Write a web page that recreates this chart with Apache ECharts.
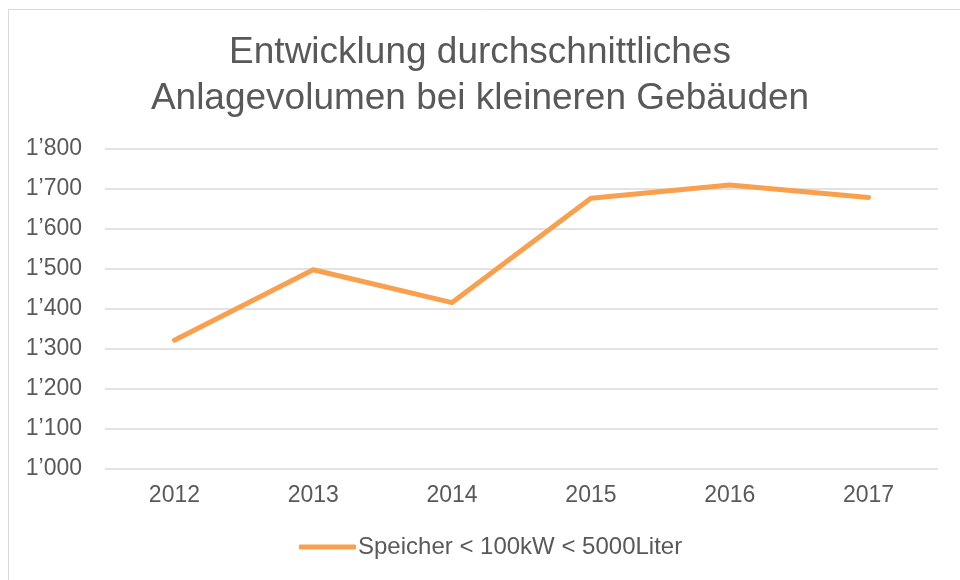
<!DOCTYPE html>
<html>
<head>
<meta charset="utf-8">
<script src="https://cdn.jsdelivr.net/npm/echarts@6/dist/echarts.min.js"></script>
<style>
  html, body { margin: 0; padding: 0; background: #fff; }
  #chart { width: 960px; height: 580px; }
</style>
</head>
<body>
<div id="chart"></div>
<script>
// Daten
const years = ['2012', '2013', '2014', '2015', '2016', '2017'];
const volumen = [1322, 1498, 1416, 1677, 1710, 1679];
const seriesName = 'Speicher < 100kW < 5000Liter';

// Tausendertrennzeichen wie im Original (1’800)
function fmt(v) {
    const s = String(Math.round(v));
    return s.length > 3 ? s.slice(0, s.length - 3) + '\u2019' + s.slice(-3) : s;
}

const chart = echarts.init(document.getElementById('chart'));
chart.setOption({
    animation: false,
    textStyle: { fontFamily: 'Liberation Sans, Arial, sans-serif' },
    graphic: [{
        type: 'rect',
        shape: { x: 8.5, y: 9.5, width: 1000, height: 1000 },
        style: { fill: 'none', stroke: '#d9d9d9', lineWidth: 1 },
        silent: true
    }],
    title: {
        text: 'Entwicklung durchschnittliches\nAnlagevolumen bei kleineren Gebäuden',
        left: 'center',
        top: 25,
        textStyle: {
            color: '#595959',
            fontSize: 37,
            fontWeight: 'normal',
            lineHeight: 46,
            fontFamily: 'Liberation Sans, Arial, sans-serif'
        }
    },
    legend: {
        data: [seriesName],
        top: 535,
        left: 299,
        icon: 'roundRect',
        itemWidth: 57,
        itemHeight: 5,
        itemGap: 10,
        padding: 0,
        textStyle: { color: '#595959', fontSize: 24, padding: [0, 0, 0, -3] }
    },
    grid: {
        left: 105,
        right: 22,
        top: 149,
        bottom: 111
    },
    xAxis: {
        type: 'category',
        data: years,
        boundaryGap: true,
        axisLine: { show: false },
        axisTick: { show: false },
        axisLabel: { color: '#595959', fontSize: 23, margin: 15 }
    },
    yAxis: {
        type: 'value',
        min: 1000,
        max: 1800,
        interval: 100,
        axisLine: { show: false },
        axisTick: { show: false },
        axisLabel: { color: '#595959', fontSize: 23, margin: 23, formatter: fmt },
        splitLine: { lineStyle: { color: '#d9d9d9', width: 1.5 } }
    },
    series: [{
        name: seriesName,
        type: 'line',
        data: volumen,
        symbol: 'none',
        itemStyle: { color: '#f9a04f' },
        lineStyle: { color: '#f9a04f', width: 5, cap: 'round', join: 'round' }
    }]
});
</script>
</body>
</html>
